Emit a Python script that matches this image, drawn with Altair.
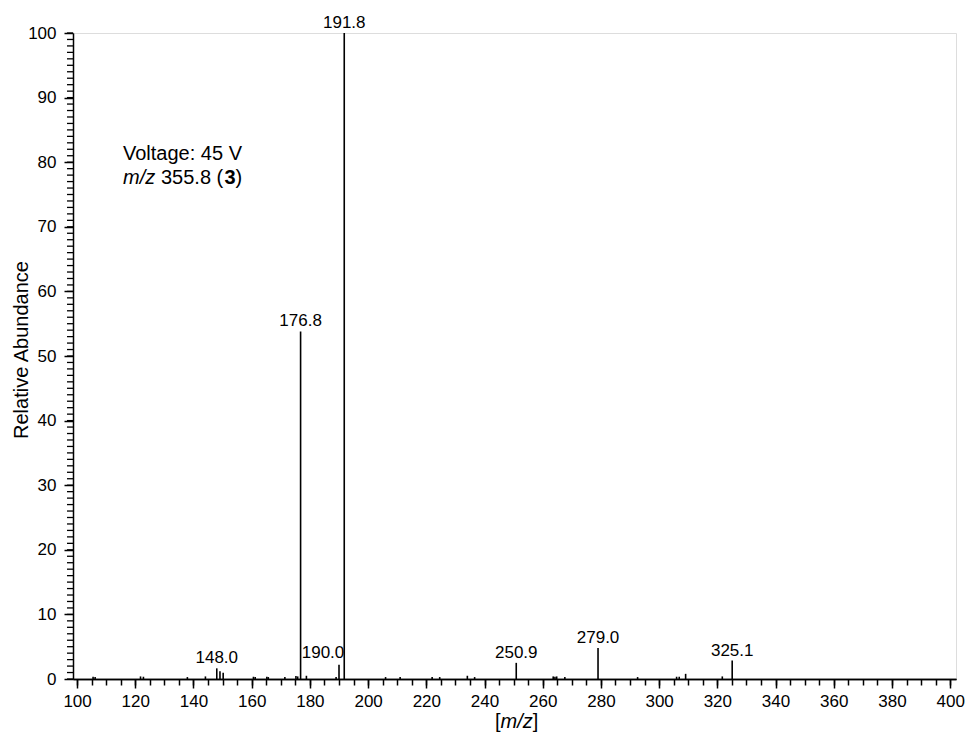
import altair as alt
import pandas as pd

# Fragment peaks: m/z and relative abundance (%)
mz = [105.5, 106.2, 121.8, 122.8, 137.9, 144.1, 148.0, 149.1, 150.2, 160.6,
      161.2, 165.2, 165.7, 171.4, 175.2, 175.8, 176.8, 178.8, 189.0, 190.0,
      191.8, 206.0, 211.0, 222.0, 224.6, 234.1, 236.6, 250.9, 263.6, 264.2,
      264.8, 267.6, 279.0, 292.6, 306.0, 306.9, 309.1, 321.7, 325.1]
abundance = [0.35, 0.3, 0.4, 0.35, 0.3, 0.4, 1.65, 1.2, 0.95, 0.35,
             0.3, 0.35, 0.3, 0.3, 0.45, 0.4, 53.8, 0.5, 0.3, 2.2,
             100.0, 0.3, 0.3, 0.3, 0.3, 0.5, 0.3, 2.5, 0.4, 0.35,
             0.4, 0.3, 4.8, 0.3, 0.35, 0.35, 0.8, 0.4, 2.85]

# Peaks annotated with their m/z value
labelled_mz = [148.0, 176.8, 190.0, 191.8, 250.9, 279.0, 325.1]

x_major = list(range(100, 401, 20))
x_minor = list(range(100, 401, 5))
y_major = list(range(0, 101, 10))
y_minor = list(range(0, 101, 1))

FONT = "Liberation Sans"
W, H = 883, 646

df = pd.DataFrame({"mz": mz, "abundance": abundance})
df["labelled"] = df["mz"].isin(labelled_mz)

x_scale = alt.Scale(domain=[98.6, 402], nice=False, zero=False)
y_scale = alt.Scale(domain=[0, 100], nice=False)

common = dict(title=None, grid=False, labelOverlap=False, labelFlush=False,
              domainColor="black", tickColor="black", labelColor="black",
              domainWidth=1.5, labelFont=FONT, labelFontSize=17,
              tickCount=500, format="d")

x_axis = alt.Axis(values=x_major, orient="bottom", tickSize=9, tickWidth=1.5,
                  labelPadding=5, **common)
y_axis = alt.Axis(values=y_major, orient="left", tickSize=9, tickWidth=1.5,
                  labelPadding=8, **common)
x_axis_minor = alt.Axis(values=x_minor, orient="bottom", tickSize=6, tickWidth=1.5,
                        labels=False, **common)

label_text = alt.Text("mz:Q", format=".1f")
base = alt.Chart(df)

stems = base.mark_rule(color="black", strokeWidth=1.6).encode(
    x=alt.X("mz:Q", scale=x_scale, axis=x_axis),
    y=alt.Y("abundance:Q", scale=y_scale, axis=y_axis),
    y2=alt.datum(0),
)

# Invisible layer that carries the minor ticks of the m/z axis
minor = base.mark_point(opacity=0).encode(
    x=alt.X("mz:Q", scale=x_scale, axis=x_axis_minor),
    y=alt.Y("abundance:Q", scale=y_scale, axis=None),
)

# Minor ticks of the abundance axis, one every 1 %
y_minor_ticks = alt.Chart(pd.DataFrame({"tick": y_minor})).mark_rule(
    color="black", strokeWidth=1.3
).encode(
    y=alt.Y("tick:Q", scale=y_scale, axis=None),
    x=alt.value(-6), x2=alt.value(0),
)

peak_labels = base.transform_filter(
    "datum.labelled && datum.mz !== 190"
).mark_text(font=FONT, fontSize=17, baseline="alphabetic", dy=-5, color="black").encode(
    x=alt.X("mz:Q", scale=x_scale, axis=None),
    y=alt.Y("abundance:Q", scale=y_scale, axis=None),
    text=label_text,
)

# 190.0 sits beside the base peak, so its label is nudged left
label_190 = base.transform_filter(
    "datum.mz === 190"
).mark_text(font=FONT, fontSize=17, baseline="alphabetic", dx=-16, dy=-7, color="black").encode(
    x=alt.X("mz:Q", scale=x_scale, axis=None),
    y=alt.Y("abundance:Q", scale=y_scale, axis=None),
    text=label_text,
)


def note(text, x, y, **style):
    props = dict(font=FONT, fontSize=20, align="left", baseline="alphabetic", color="black")
    props.update(style)
    return alt.Chart(alt.Data(values=[{}])).mark_text(**props).encode(
        x=alt.value(x), y=alt.value(y), text=alt.value(text)
    )


annotations = [
    note("Voltage: 45 V", 50, 127),
    note("m/z", 50, 151, fontStyle="italic"),
    note("355.8 (", 88, 151),
    note("3", 151.5, 151, fontWeight="bold"),
    note(")", 162.5, 151),
    # x-axis title: [m/z]
    note("[", 422, 695),
    note("m/z", 427.6, 695, fontStyle="italic"),
    note("]", 459.8, 695),
    # y-axis title
    note("Relative Abundance", -45, 317, angle=270, align="center"),
]

chart = alt.layer(minor, y_minor_ticks, stems, peak_labels, label_190, *annotations).resolve_axis(
    x="independent", y="independent"
).properties(
    width=W, height=H,
    autosize=alt.AutoSizeParams(type="none"),
    padding={"left": 73, "top": 33, "right": 965 - 73 - W, "bottom": 736 - 33 - H},
).configure_view(stroke=None).configure(background="white")

chart.save("out.html", embed_options={"renderer": "svg", "actions": False})
